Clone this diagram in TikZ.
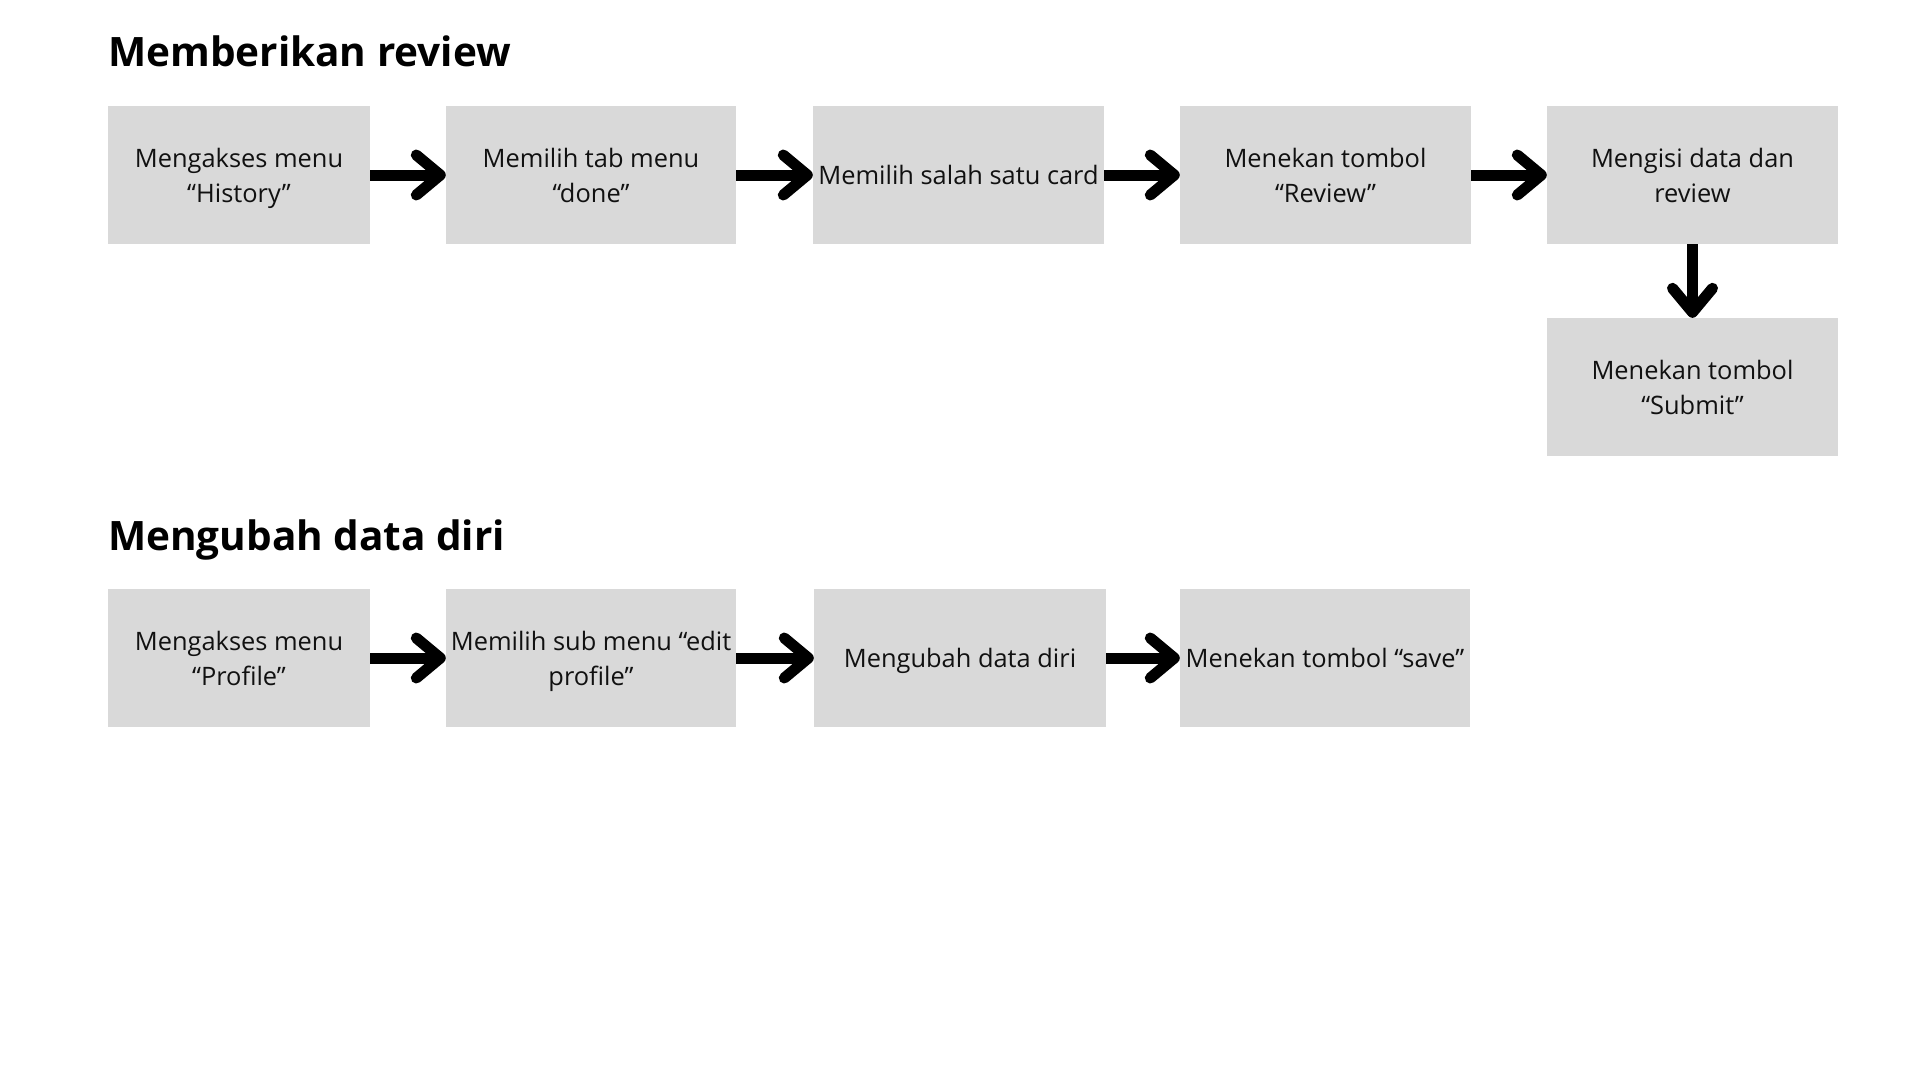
\documentclass[tikz,border=0pt]{standalone}
\usepackage{fontspec}
\setmainfont{Open Sans}
\usetikzlibrary{arrows.meta}
\definecolor{boxgray}{HTML}{D9D9D9}
\definecolor{ink}{HTML}{111111}
\newcommand\lnstrut{\rule[-7.8pt]{0pt}{35pt}}
\tikzset{
  box/.style={fill=boxgray, draw=none, minimum height=138pt, inner sep=0pt,
    align=center, text=ink, font=\fontsize{25.4}{35}\selectfont},
  flow/.style={line width=11pt, draw=black,
    -{Straight Barb[round,length=24pt,width=40pt]}},
  title/.style={anchor=base west, inner sep=0pt, text=black,
    font=\fontsize{40.5}{48}\selectfont\bfseries}
}
\begin{document}
\begin{tikzpicture}[x=1pt,y=-1pt]
\useasboundingbox[fill=white] (0,0) rectangle (1920,1080);

\node[title] (t1) at (108,66) {Memberikan review};
\node[title] (t2) at (108,550) {Mengubah data diri};

% Row 1
\node[box, minimum width=262pt] (a1) at (239,175) {\lnstrut Mengakses menu\\\lnstrut “History”};
\node[box, minimum width=290pt] (a2) at (591,175) {\lnstrut Memilih tab menu\\\lnstrut “done”};
\node[box, minimum width=291pt] (a3) at (958.5,175) {\lnstrut Memilih salah satu card};
\node[box, minimum width=291pt] (a4) at (1325.5,175) {\lnstrut Menekan tombol\\\lnstrut “Review”};
\node[box, minimum width=291pt] (a5) at (1692.5,175) {\lnstrut Mengisi data dan\\\lnstrut review};
\node[box, minimum width=291pt] (a6) at (1692.5,387) {\lnstrut Menekan tombol\\\lnstrut “Submit”};

\draw[flow] (a1.east) -- (a2.west);
\draw[flow] (a2.east) -- (a3.west);
\draw[flow] (a3.east) -- (a4.west);
\draw[flow] (a4.east) -- (a5.west);
\draw[flow] (a5.south) -- (a6.north);

% Row 2
\node[box, minimum width=262pt] (b1) at (239,658) {\lnstrut Mengakses menu\\\lnstrut “Profile”};
\node[box, minimum width=290pt] (b2) at (591,658) {\lnstrut Memilih sub menu “edit\\\lnstrut profile”};
\node[box, minimum width=292pt] (b3) at (960,658) {\lnstrut Mengubah data diri};
\node[box, minimum width=290pt] (b4) at (1325,658) {\lnstrut Menekan tombol “save”};

\draw[flow] (b1.east) -- (b2.west);
\draw[flow] (b2.east) -- (b3.west);
\draw[flow] (b3.east) -- (b4.west);
\end{tikzpicture}
\end{document}
